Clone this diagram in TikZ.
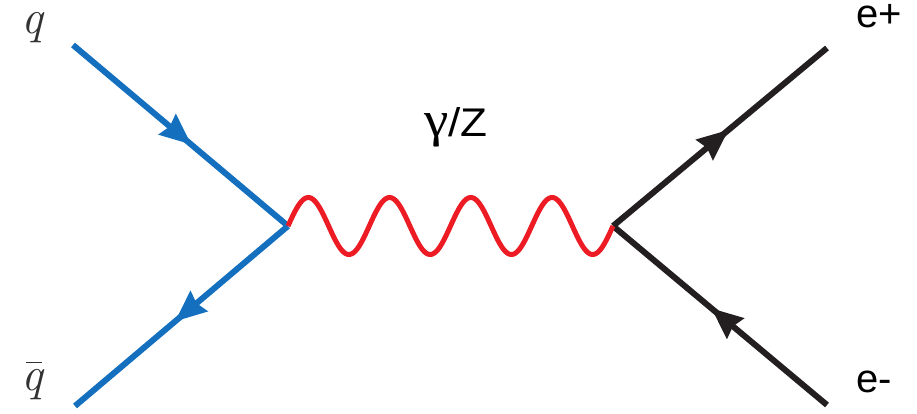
\documentclass[tikz,border=0pt]{standalone}
\usepackage{fontspec}
\newfontfamily\labfont{Liberation Sans}
\newfontfamily\grkfont{Liberation Serif}
\usetikzlibrary{arrows.meta,decorations.markings}
\definecolor{qblue}{RGB}{20,112,190}
\definecolor{bred}{RGB}{237,28,36}
\definecolor{lblack}{RGB}{35,31,32}
\definecolor{qgray}{RGB}{50,50,50}
\newcommand{\qbarsym}{\makebox[0pt][l]{\hspace{0.1em}\raisebox{0.56em}{\rule{0.34em}{0.025em}}}q}
\begin{document}
\begin{tikzpicture}[x=1pt,y=-1pt,
  fermion/.style={line width=6pt, postaction={decorate},
    decoration={markings, mark=at position #1 with {\arrow{Stealth[length=31pt,width=26pt,inset=3pt]}}}},
  photon/.style={bred, line width=5pt},
  sanslab/.style={inner sep=0pt, anchor=base west, font=\labfont\fontsize{40}{48}\selectfont, text=black},
  mathlab/.style={inner sep=0pt, anchor=base west, font=\fontsize{48}{56}\selectfont\itshape, text=qgray}
]
\useasboundingbox (0,0) rectangle (917,414);
% vertices and external points
\coordinate (v1) at (288,226);
\coordinate (v2) at (613,226);
\coordinate (qin) at (73,45);
\coordinate (qbout) at (75,406);
\coordinate (ep) at (827,48);
\coordinate (em) at (827,405);
% fermion lines
\draw[fermion=0.55, qblue] (qin) -- (v1);
\draw[fermion=0.53, qblue] (v1) -- (qbout);
\draw[fermion=0.54, lblack] (v2) -- (ep);
\draw[fermion=0.54, lblack] (em) -- (v2);
% boson (v1 to v2, four periods)
\draw[photon, shift={(v1)}] plot[domain=0:325, samples=240, smooth] (\x, {-28.5*sin(\x*4.43077)});
% labels
\node[mathlab] (lq) at (21,34) {q};
\node[mathlab] (lqb) at (21,390) {\qbarsym};
\node[sanslab] (lep) at (856,28) {e+};
\node[sanslab] (lem) at (856,392) {e-};
\node[sanslab, xscale=1.1] (lgz) at (424,137) {{\grkfont\fontsize{50}{56}\selectfont γ}/Z};
\end{tikzpicture}
\end{document}
